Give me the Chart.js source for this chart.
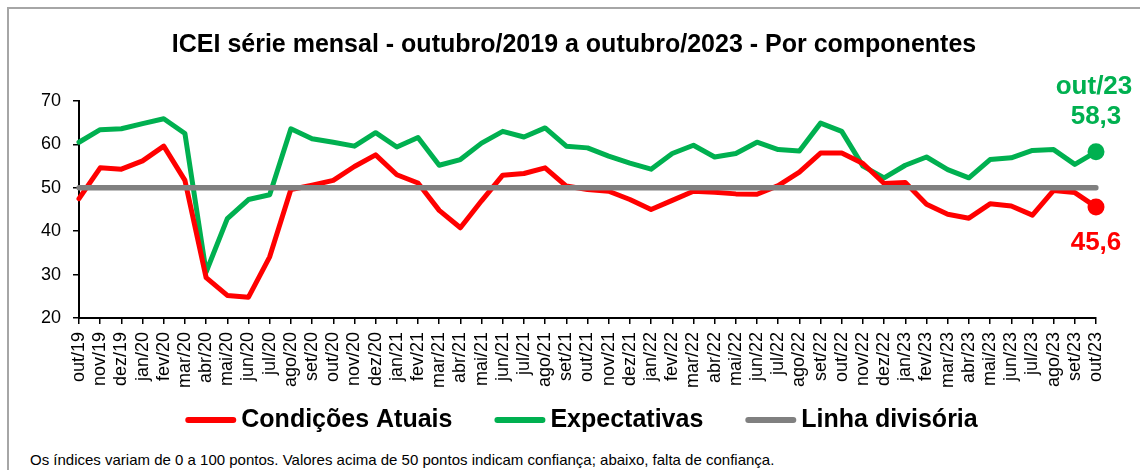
<!DOCTYPE html>
<html lang="pt-BR">
<head>
<meta charset="utf-8">
<title>ICEI por componentes</title>
<script src="https://cdn.jsdelivr.net/npm/chart.js@4.4.1/dist/chart.umd.min.js"></script>
<style>
    html, body { margin: 0; padding: 0; background: #fff; }
    body { width: 1140px; height: 470px; position: relative; overflow: hidden; font-family: "Liberation Sans", Arial, sans-serif; }
    #frame { position: absolute; left: 7px; top: 7px; width: 1140px; height: 470px; border-top: 2px solid #a6a6a6; border-left: 2px solid #a6a6a6; }
    #chartBox { position: absolute; left: 0; top: 0; width: 1140px; height: 450px; }
    #nota { position: absolute; left: 30px; top: 451px; font-size: 15px; color: #000; white-space: nowrap; }
</style>
</head>
<body>
<div id="frame"></div>
<div id="chartBox"><canvas id="iceiChart" width="1140" height="450"></canvas></div>
<div id="nota">Os índices variam de 0 a 100 pontos. Valores acima de 50 pontos indicam confiança; abaixo, falta de confiança.</div>

<script>
const meses = [
    "out/19", "nov/19", "dez/19",
    "jan/20", "fev/20", "mar/20", "abr/20", "mai/20", "jun/20", "jul/20", "ago/20", "set/20", "out/20", "nov/20", "dez/20",
    "jan/21", "fev/21", "mar/21", "abr/21", "mai/21", "jun/21", "jul/21", "ago/21", "set/21", "out/21", "nov/21", "dez/21",
    "jan/22", "fev/22", "mar/22", "abr/22", "mai/22", "jun/22", "jul/22", "ago/22", "set/22", "out/22", "nov/22", "dez/22",
    "jan/23", "fev/23", "mar/23", "abr/23", "mai/23", "jun/23", "jul/23", "ago/23", "set/23", "out/23"
];

const condicoesAtuais = [
    47.5, 54.6, 54.3,
    56.2, 59.6, 51.7, 29.3, 25.2, 24.8, 34.1, 49.6, 50.6, 51.7, 54.9, 57.6,
    53.0, 51.1, 44.8, 40.8, 47.0, 52.9, 53.3, 54.6, 50.4, 49.6, 49.2, 47.3,
    45.0, 47.1, 49.2, 49.0, 48.6, 48.5, 50.5, 53.6, 58.0, 58.0, 55.6, 51.0,
    51.2, 46.2, 43.9, 43.0, 46.3, 45.8, 43.7, 49.4, 48.9, 45.6
];

const expectativas = [
    60.5, 63.4, 63.6,
    64.8, 65.9, 62.5, 30.6, 42.9, 47.3, 48.4, 63.6, 61.3, 60.5, 59.6, 62.7,
    59.4, 61.6, 55.2, 56.5, 60.3, 63.0, 61.7, 63.8, 59.6, 59.2, 57.3, 55.7,
    54.3, 57.9, 59.8, 57.1, 57.9, 60.5, 58.8, 58.5, 64.9, 63.0, 55.0, 52.3,
    55.2, 57.1, 54.2, 52.3, 56.5, 56.9, 58.6, 58.8, 55.4, 58.3
];

const linhaDivisoria = [
    50, 50, 50,
    50, 50, 50, 50, 50, 50, 50, 50, 50, 50, 50, 50,
    50, 50, 50, 50, 50, 50, 50, 50, 50, 50, 50, 50,
    50, 50, 50, 50, 50, 50, 50, 50, 50, 50, 50, 50,
    50, 50, 50, 50, 50, 50, 50, 50, 50, 50
];

const yTicks = [20, 30, 40, 50, 60, 70];

const VERMELHO = "#FF0000";
const VERDE = "#00B050";
const CINZA = "#808080";
const FONTE = "'Liberation Sans', Arial, sans-serif";

const ultimo = meses.length - 1;
const markerAtEnd = ctx => ctx.dataIndex === ultimo ? 6 : 0;

// rótulos do último mês (out/23) ao lado dos marcadores
const endLabels = {
    id: "endLabels",
    afterDatasetsDraw(chart) {
        const { ctx } = chart;
        const ptVerde = chart.getDatasetMeta(1).data[ultimo];
        const ptVermelho = chart.getDatasetMeta(0).data[ultimo];
        ctx.save();
        ctx.font = `bold 26px ${FONTE}`;
        ctx.textAlign = "center";
        ctx.textBaseline = "middle";
        ctx.fillStyle = VERDE;
        ctx.fillText(meses[ultimo], ptVerde.x - 2, ptVerde.y - 65);
        ctx.fillText(expectativas[ultimo].toFixed(1).replace(".", ","), ptVerde.x, ptVerde.y - 35);
        ctx.fillStyle = VERMELHO;
        ctx.fillText(condicoesAtuais[ultimo].toFixed(1).replace(".", ","), ptVermelho.x, ptVermelho.y + 36);
        ctx.restore();
    }
};

// legenda no estilo do Excel: traço curto, texto colado, itens bem espaçados
const lineLegend = {
    id: "lineLegend",
    afterDraw(chart) {
        const { ctx, chartArea } = chart;
        const items = chart.data.datasets.map(ds => ({ text: ds.label, color: ds.borderColor }));
        const LINE = 51, TEXT_GAP = 5, ITEM_GAP = 42;
        ctx.save();
        ctx.font = `bold 25px ${FONTE}`;
        ctx.textBaseline = "middle";
        ctx.textAlign = "left";
        const widths = items.map(it => LINE + TEXT_GAP + ctx.measureText(it.text).width);
        const total = widths.reduce((a, b) => a + b, 0) + ITEM_GAP * (items.length - 1);
        let x = (chartArea.left + chartArea.right) / 2 - 6 - total / 2;
        const y = chartArea.bottom + 102;
        items.forEach((it, i) => {
            ctx.strokeStyle = it.color;
            ctx.lineWidth = 6;
            ctx.lineCap = "round";
            ctx.beginPath();
            ctx.moveTo(x + 3, y);
            ctx.lineTo(x + LINE - 3, y);
            ctx.stroke();
            ctx.fillStyle = "#000";
            ctx.fillText(it.text, x + LINE + TEXT_GAP, y);
            x += widths[i] + ITEM_GAP;
        });
        ctx.restore();
    }
};

// o título do original fica um pouco à direita do centro
const nudgeTitle = {
    id: "nudgeTitle",
    afterLayout(chart) {
        if (chart.titleBlock) chart.titleBlock.left += 16;
    }
};

function lineDataset(label, data, color, order) {
    return {
        label,
        data,
        borderColor: color,
        backgroundColor: color,
        borderWidth: 5,
        borderJoinStyle: "round",
        borderCapStyle: "round",
        tension: 0,
        fill: false,
        order
    };
}

const datasets = [
    { ...lineDataset("Condições Atuais", condicoesAtuais, VERMELHO, 2), pointRadius: markerAtEnd, pointHoverRadius: markerAtEnd },
    { ...lineDataset("Expectativas", expectativas, VERDE, 3), pointRadius: markerAtEnd, pointHoverRadius: markerAtEnd },
    { ...lineDataset("Linha divisória", linhaDivisoria, CINZA, 1), borderWidth: 5.5, pointRadius: 0, pointHoverRadius: 0 }
];

Chart.defaults.font.family = FONTE;
Chart.defaults.color = "#000";

new Chart(document.getElementById("iceiChart").getContext("2d"), {
    type: "line",
    data: { labels: meses, datasets },
    plugins: [endLabels, lineLegend, nudgeTitle],
    options: {
        responsive: false,
        animation: false,
        events: [],
        layout: { padding: { left: 36, right: 44, top: 0, bottom: 52 } },
        plugins: {
            title: {
                display: true,
                text: "ICEI série mensal - outubro/2019 a outubro/2023 - Por componentes",
                font: { size: 25, weight: "bold" },
                color: "#000",
                padding: { top: 30, bottom: 41 }
            },
            legend: { display: false },
            tooltip: { enabled: false }
        },
        scales: {
            x: {
                grid: { display: true, drawOnChartArea: false, drawTicks: true, tickLength: 6, color: "#000", lineWidth: 1.5 },
                border: { display: true, color: "#000", width: 2 },
                ticks: { autoSkip: false, minRotation: 90, maxRotation: 90, padding: 8, color: "#000", font: { size: 18 } },
                afterFit: scale => { scale.height = 80; }
            },
            y: {
                min: 20,
                max: 70,
                afterBuildTicks: scale => { scale.ticks = yTicks.map(v => ({ value: v })); },
                grid: { display: true, drawOnChartArea: false, drawTicks: true, tickLength: 6, color: "#000", lineWidth: 1.5 },
                border: { display: true, color: "#000", width: 2 },
                ticks: { padding: 12, color: "#000", font: { size: 18 } },
                afterFit: scale => { scale.width = 43; }
            }
        }
    }
});
</script>
</body>
</html>
